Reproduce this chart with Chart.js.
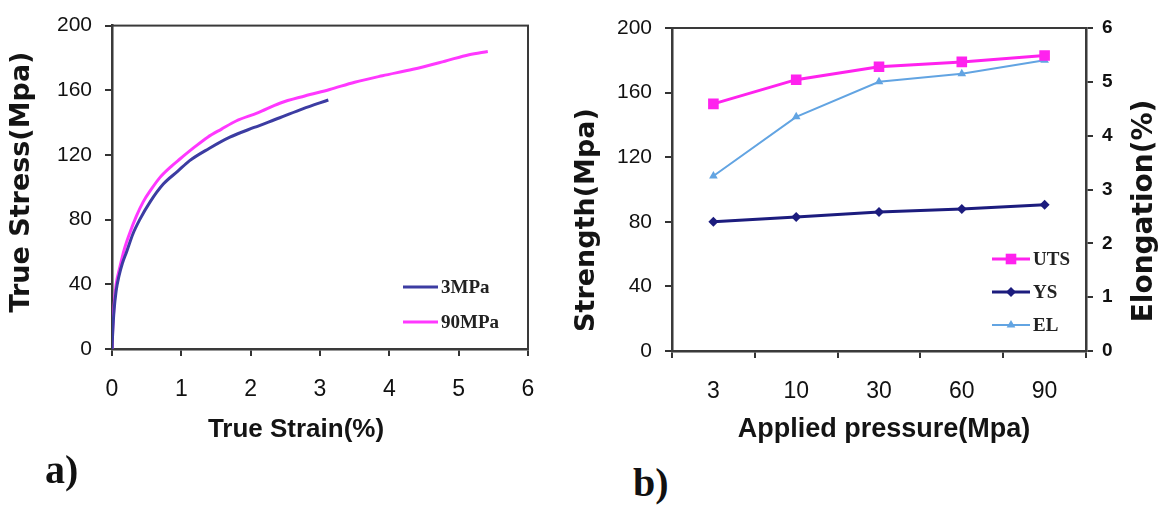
<!DOCTYPE html>
<html>
<head>
<meta charset="utf-8">
<script src="https://cdn.jsdelivr.net/npm/chart.js@4.4.1/dist/chart.umd.min.js"></script>
<style>
  html, body { margin: 0; padding: 0; background: #fff; }
  #page { position: relative; width: 1169px; height: 510px; overflow: hidden; }
  .box { position: absolute; top: 0; height: 460px; }
  #boxA { left: 0; width: 560px; }
  #boxB { left: 560px; width: 609px; }
  .tag { position: absolute; font: bold 40px "Liberation Serif", "Times New Roman", serif; line-height: 1; color: #111; }
</style>
</head>
<body>
<div id="page">
  <div class="box" id="boxA"><canvas id="chartA"></canvas></div>
  <div class="box" id="boxB"><canvas id="chartB"></canvas></div>
  <div class="tag" style="left:45px;top:450px">a)</div>
  <div class="tag" style="left:633px;top:463px">b)</div>
</div>
<script>
// a) true stress / strain curves
const strain3 = [0, 0.01, 0.03, 0.06, 0.10, 0.15, 0.21, 0.30, 0.40, 0.55, 0.74, 0.95, 1.12, 1.40, 1.70, 2.05, 2.42, 2.75, 3.12];
const stress3 = [0, 10, 24, 36, 45, 53, 60, 71, 80, 91, 102, 110, 116.5, 124, 131, 137, 143, 148.5, 154];
const strain90 = [0, 0.01, 0.03, 0.06, 0.11, 0.18, 0.25, 0.35, 0.45, 0.57, 0.69, 0.83, 0.98, 1.18, 1.38, 1.58, 1.79, 2.10, 2.42, 2.78, 3.14, 3.50, 3.90, 4.34, 4.80, 5.15, 5.42];
const stress90 = [0, 12, 27, 40, 50, 62, 71, 82, 91, 99, 106, 112, 117.5, 124.5, 131, 136, 141, 146, 152, 156.5, 160.5, 165, 169, 173, 178, 182, 184];
const strainTicks = [0, 1, 2, 3, 4, 5, 6];
const stressTicks = [0, 40, 80, 120, 160, 200];

// b) strength and elongation against applied pressure
const pressures = ['3', '10', '30', '60', '90'];
const uts = [153, 168, 176, 179, 183];
const ys = [80, 83, 86, 88, 90.5];
const elong = [3.25, 4.35, 5.0, 5.15, 5.4];
const strengthTicks = [0, 40, 80, 120, 160, 200];
const elongTicks = [0, 1, 2, 3, 4, 5, 6];

const AXIS = '#333';
const TXT = '#111';

const setTicks = list => scale => { scale.ticks = list.map(v => ({ value: v })); };

// box round the plot area
const frame = {
  id: 'frame',
  beforeDatasetsDraw(chart) {
    const { ctx, chartArea: a } = chart;
    ctx.save();
    ctx.strokeStyle = '#3a3a3a';
    ctx.lineWidth = 2;
    ctx.strokeRect(a.left, a.top, a.right - a.left, a.bottom - a.top);
    ctx.restore();
  }
};

// axis titles, placed by hand like in the figure
function makeTitles(items) {
  return {
    id: 'titles',
    afterDraw(chart) {
      const ctx = chart.ctx;
      items.forEach(t => {
        ctx.save();
        ctx.translate(t.x, t.y);
        if (t.rot) ctx.rotate(t.rot);
        ctx.font = t.font;
        ctx.fillStyle = '#141414';
        ctx.textAlign = 'center';
        ctx.textBaseline = 'middle';
        ctx.fillText(t.text, 0, 0);
        ctx.restore();
      });
    }
  };
}

function marker(ctx, style, x, y, r) {
  ctx.beginPath();
  if (style === 'rect') {
    const s = r * Math.SQRT1_2;
    ctx.rect(x - s, y - s, 2 * s, 2 * s);
  } else if (style === 'rectRot') {
    ctx.moveTo(x - r, y); ctx.lineTo(x, y - r); ctx.lineTo(x + r, y); ctx.lineTo(x, y + r);
    ctx.closePath();
  } else if (style === 'triangle') {
    ctx.moveTo(x, y - r); ctx.lineTo(x + r * 0.87, y + r * 0.5); ctx.lineTo(x - r * 0.87, y + r * 0.5);
    ctx.closePath();
  } else {
    return;
  }
  ctx.fill();
}

// legend sitting inside the plot area
function makeLegend(cfg) {
  return {
    id: 'insideLegend',
    afterDraw(chart) {
      const ctx = chart.ctx;
      chart.data.datasets.forEach((ds, i) => {
        const y = cfg.y + i * cfg.dy;
        ctx.save();
        ctx.strokeStyle = ds.borderColor;
        ctx.lineWidth = ds.borderWidth;
        ctx.beginPath();
        ctx.moveTo(cfg.x, y);
        ctx.lineTo(cfg.x + cfg.len, y);
        ctx.stroke();
        ctx.fillStyle = ds.borderColor;
        if (ds.pointRadius) marker(ctx, ds.pointStyle, cfg.x + cfg.len / 2, y, ds.pointRadius);
        ctx.font = cfg.font;
        ctx.fillStyle = '#222';
        ctx.textAlign = 'left';
        ctx.textBaseline = 'middle';
        ctx.fillText(ds.label, cfg.x + cfg.len + cfg.gap, y + 1);
        ctx.restore();
      });
    }
  };
}

const tickGrid = { drawOnChartArea: false, drawTicks: true, tickLength: 7, color: AXIS, lineWidth: 2 };
const axisBorder = { display: true, color: AXIS, width: 2.5 };
const yFont = { family: '"Liberation Sans", Arial, sans-serif', size: 21 };
const xFont = { family: '"Liberation Sans", Arial, sans-serif', size: 23 };

// chart a)
new Chart(document.getElementById('chartA'), {
  type: 'line',
  data: {
    datasets: [
      {
        label: '3MPa',
        data: strain3.map((x, i) => ({ x: x, y: stress3[i] })),
        borderColor: '#3c3ca2',
        borderWidth: 3,
        pointRadius: 0,
        cubicInterpolationMode: 'monotone'
      },
      {
        label: '90MPa',
        data: strain90.map((x, i) => ({ x: x, y: stress90[i] })),
        borderColor: '#ff38ff',
        borderWidth: 3,
        pointRadius: 0,
        cubicInterpolationMode: 'monotone'
      }
    ]
  },
  options: {
    responsive: true,
    maintainAspectRatio: false,
    animation: false,
    layout: { padding: { top: 22, right: 32, left: 0, bottom: 0 } },
    plugins: { legend: { display: false }, tooltip: { enabled: false } },
    scales: {
      x: {
        type: 'linear',
        min: 0,
        max: 6,
        afterBuildTicks: setTicks(strainTicks),
        afterFit: s => { s.height = 111; },
        grid: tickGrid,
        border: axisBorder,
        ticks: { font: xFont, color: TXT, padding: 20, maxRotation: 0 }
      },
      y: {
        min: 0,
        max: 200,
        afterBuildTicks: setTicks(stressTicks),
        afterFit: s => { s.width = 112; },
        grid: tickGrid,
        border: axisBorder,
        ticks: { font: yFont, color: TXT, padding: 13 }
      }
    }
  },
  plugins: [
    frame,
    makeTitles([
      { text: 'True Strain(%)', x: 296, y: 430, font: 'bold 26px "Liberation Sans", Arial, sans-serif' },
      { text: 'True Stress(Mpa)', x: 22, y: 182, rot: -Math.PI / 2, font: 'bold 27px "DejaVu Sans", sans-serif' }
    ]),
    makeLegend({ x: 403, y: 287, dy: 35, len: 35, gap: 3, font: 'bold 19px "Liberation Serif", "Times New Roman", serif' })
  ]
});

// chart b)
new Chart(document.getElementById('chartB'), {
  type: 'line',
  data: {
    labels: pressures,
    datasets: [
      {
        label: 'UTS',
        data: uts,
        yAxisID: 'y',
        borderColor: '#ff22ee',
        backgroundColor: '#ff22ee',
        borderWidth: 3,
        pointStyle: 'rect',
        pointRadius: 7.5,
        pointBorderWidth: 0
      },
      {
        label: 'YS',
        data: ys,
        yAxisID: 'y',
        borderColor: '#1c1c7e',
        backgroundColor: '#1c1c7e',
        borderWidth: 3,
        pointStyle: 'rectRot',
        pointRadius: 5,
        pointBorderWidth: 0
      },
      {
        label: 'EL',
        data: elong,
        yAxisID: 'y2',
        borderColor: '#62a4e2',
        backgroundColor: '#62a4e2',
        borderWidth: 2,
        pointStyle: 'triangle',
        pointRadius: 5,
        pointBorderWidth: 0
      }
    ]
  },
  options: {
    responsive: true,
    maintainAspectRatio: false,
    animation: false,
    layout: { padding: { top: 28, right: 0, left: 0, bottom: 0 } },
    plugins: { legend: { display: false }, tooltip: { enabled: false } },
    scales: {
      x: {
        type: 'category',
        offset: true,
        afterFit: s => { s.height = 109; },
        grid: Object.assign({}, tickGrid, { offset: true }),
        border: axisBorder,
        ticks: { font: xFont, color: TXT, padding: 20, maxRotation: 0 }
      },
      y: {
        position: 'left',
        min: 0,
        max: 200,
        afterBuildTicks: setTicks(strengthTicks),
        afterFit: s => { s.width = 112; },
        grid: tickGrid,
        border: axisBorder,
        ticks: { font: yFont, color: TXT, padding: 13 }
      },
      y2: {
        position: 'right',
        min: 0,
        max: 6,
        afterBuildTicks: setTicks(elongTicks),
        afterFit: s => { s.width = 83; },
        grid: tickGrid,
        border: axisBorder,
        ticks: { font: { family: '"Liberation Sans", Arial, sans-serif', size: 19, weight: 'bold' }, color: TXT, padding: 9 }
      }
    }
  },
  plugins: [
    frame,
    makeTitles([
      { text: 'Applied pressure(Mpa)', x: 324, y: 430, font: 'bold 27px "Liberation Sans", Arial, sans-serif' },
      { text: 'Strength(Mpa)', x: 27, y: 220, rot: -Math.PI / 2, font: 'bold 27px "DejaVu Sans", sans-serif' },
      { text: 'Elongation(%)', x: 585, y: 211, rot: -Math.PI / 2, font: 'bold 28px "DejaVu Sans", sans-serif' }
    ]),
    makeLegend({ x: 432, y: 259, dy: 33, len: 38, gap: 3, font: 'bold 19px "Liberation Serif", "Times New Roman", serif' })
  ]
});
</script>
</body>
</html>
